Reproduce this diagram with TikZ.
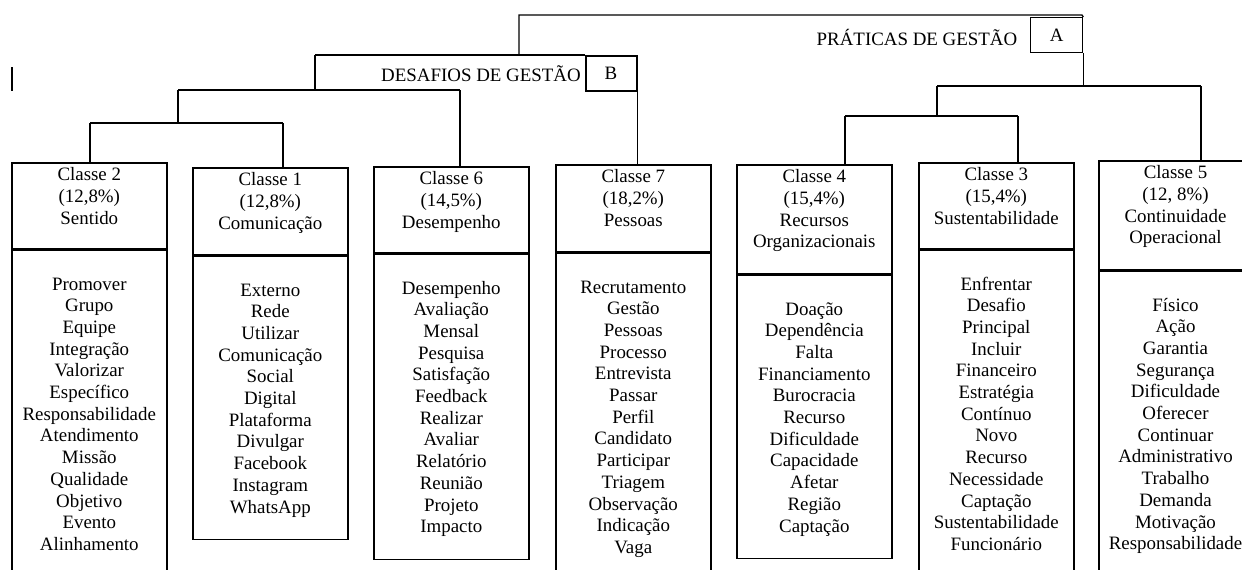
\documentclass[tikz,border=0pt]{standalone}
\usepackage{fontspec}
\setmainfont{Liberation Serif}
\begin{document}
\begin{tikzpicture}[x=0.5pt,y=-0.5pt,
  box/.style={draw, line width=0.8pt, inner sep=0pt, anchor=north west, minimum width=77.5pt},
  conn/.style={line width=0.65pt},
  txt/.style={font=\fontsize{9.45}{10.85}\selectfont, align=center, inner sep=0pt, anchor=north},
  lbl/.style={font=\fontsize{9.45}{10.85}\selectfont, inner sep=0pt},
  tag/.style={draw, inner sep=0pt, anchor=north west, font=\fontsize{9.45}{10.85}\selectfont}]
\useasboundingbox (0,0) rectangle (1242,569);
\clip (0,0) rectangle (1242,569);
\fill[white] (0,0) rectangle (1242,569);

% ---- class boxes ----
\node[box, minimum height=43pt] (h2) at (11,162) {};
\node[box, minimum height=176pt] (b2) at (h2.south west) {};
\node[box, minimum height=43.5pt] (h1) at (192,167) {};
\node[box, minimum height=141.5pt] (b1) at (h1.south west) {};
\node[box, minimum height=43pt] (h6) at (373,166) {};
\node[box, minimum height=152.5pt] (b6) at (h6.south west) {};
\node[box, minimum height=43.5pt] (h7) at (555,164) {};
\node[box, minimum height=174.5pt] (b7) at (h7.south west) {};
\node[box, minimum height=54.5pt] (h4) at (736,164) {};
\node[box, minimum height=141.5pt] (b4) at (h4.south west) {};
\node[box, minimum height=43pt] (h3) at (918,162) {};
\node[box, minimum height=176pt] (b3) at (h3.south west) {};
\node[box, minimum width=100pt, minimum height=54.5pt] (h5) at (1098,160) {};
\node[box, minimum width=100pt, minimum height=165.5pt] (b5) at (h5.south west) {};

% ---- headers ----
\node[txt, yshift=-1.65pt] (t2) at (h2.north) {\strut Classe 2\\(12,8\%)\\Sentido};
\node[txt, yshift=-1.65pt] (t1) at (h1.north) {\strut Classe 1\\(12,8\%)\\Comunicação};
\node[txt, yshift=-1.65pt] (t6) at (h6.north) {\strut Classe 6\\(14,5\%)\\Desempenho};
\node[txt, yshift=-1.65pt] (t7) at (h7.north) {\strut Classe 7\\(18,2\%)\\Pessoas};
\node[txt, yshift=-1.65pt] (t4) at (h4.north) {\strut Classe 4\\(15,4\%)\\Recursos\\Organizacionais};
\node[txt, yshift=-1.65pt] (t3) at (h3.north) {\strut Classe 3\\(15,4\%)\\Sustentabilidade};
\node[txt, yshift=-1.65pt, xshift=38.75pt] (t5) at (h5.north west) {\strut Classe 5\\(12, 8\%)\\Continuidade\\Operacional};

% ---- word lists ----
\node[txt, yshift=-12.4pt] (w2) at (b2.north) {\strut Promover\\Grupo\\Equipe\\Integração\\Valorizar\\Específico\\Responsabilidade\\Atendimento\\Missão\\Qualidade\\Objetivo\\Evento\\Alinhamento};
\node[txt, yshift=-12.4pt] (w1) at (b1.north) {\strut Externo\\Rede\\Utilizar\\Comunicação\\Social\\Digital\\Plataforma\\Divulgar\\Facebook\\Instagram\\WhatsApp};
\node[txt, yshift=-12.4pt] (w6) at (b6.north) {\strut Desempenho\\Avaliação\\Mensal\\Pesquisa\\Satisfação\\Feedback\\Realizar\\Avaliar\\Relatório\\Reunião\\Projeto\\Impacto};
\node[txt, yshift=-12.4pt] (w7) at (b7.north) {\strut Recrutamento\\Gestão\\Pessoas\\Processo\\Entrevista\\Passar\\Perfil\\Candidato\\Participar\\Triagem\\Observação\\Indicação\\Vaga};
\node[txt, yshift=-12.4pt] (w4) at (b4.north) {\strut Doação\\Dependência\\Falta\\Financiamento\\Burocracia\\Recurso\\Dificuldade\\Capacidade\\Afetar\\Região\\Captação};
\node[txt, yshift=-12.4pt] (w3) at (b3.north) {\strut Enfrentar\\Desafio\\Principal\\Incluir\\Financeiro\\Estratégia\\Contínuo\\Novo\\Recurso\\Necessidade\\Captação\\Sustentabilidade\\Funcionário};
\node[txt, yshift=-12.4pt, xshift=38.75pt] (w5) at (b5.north west) {\strut Físico\\Ação\\Garantia\\Segurança\\Dificuldade\\Oferecer\\Continuar\\Administrativo\\Trabalho\\Demanda\\Motivação\\Responsabilidade};

% ---- titles and tags ----
\node[tag, line width=0.65pt, minimum width=26pt, minimum height=17.5pt] (A) at (1030,17) {A};
\node[tag, line width=1pt, minimum width=25.5pt, minimum height=17.5pt] (B) at (584.5,55) {B};
\node[lbl, anchor=base] (pg) at (917,45.5) {PRÁTICAS DE GESTÃO};
\node[lbl, anchor=base] (dg) at (481,81) {DESAFIOS DE GESTÃO};

% ---- junction coordinates ----
\coordinate (jB) at (519,55);
\coordinate (topR) at (1082,15);
\coordinate (L1) at (315,55);
\coordinate (L2a) at (178,90);
\coordinate (L2b) at (460,90);
\coordinate (L3a) at (90,123);
\coordinate (L3b) at (283,123);
\coordinate (R1a) at (937,86);
\coordinate (R1b) at (1201,86);
\coordinate (R2a) at (845,116);
\coordinate (R2b) at (1018,116);
\coordinate (m1) at (12,67);
\coordinate (m2) at (12,91);

% ---- connectors ----
\draw[conn] (jB) |- (topR) -- (A.north east);
\draw[conn] (L1) -- (B.north west);
\draw[conn] (B.south east) -- (B.south east |- h7.north);
\draw[conn] (L1) -- (L1 |- L2a);
\draw[conn] (L2a) -- (L2b);
\draw[conn] (L2b) -- (L2b |- h6.north);
\draw[conn] (L2a) -- (L2a |- L3a);
\draw[conn] (L3a) -- (L3b);
\draw[conn] (L3a) -- (L3a |- h2.north);
\draw[conn] (L3b) -- (L3b |- h1.north);
\draw[conn] (A.south east) -- (A.south east |- R1a);
\draw[conn] (R1a) -- (R1b);
\draw[conn] (R1b) -- (R1b |- h5.north);
\draw[conn] (R1a) -- (R1a |- R2a);
\draw[conn] (R2a) -- (R2b);
\draw[conn] (R2a) -- (R2a |- h4.north);
\draw[conn] (R2b) -- (R2b |- h3.north);
\draw[conn] (m1) -- (m2);
\end{tikzpicture}
\end{document}
